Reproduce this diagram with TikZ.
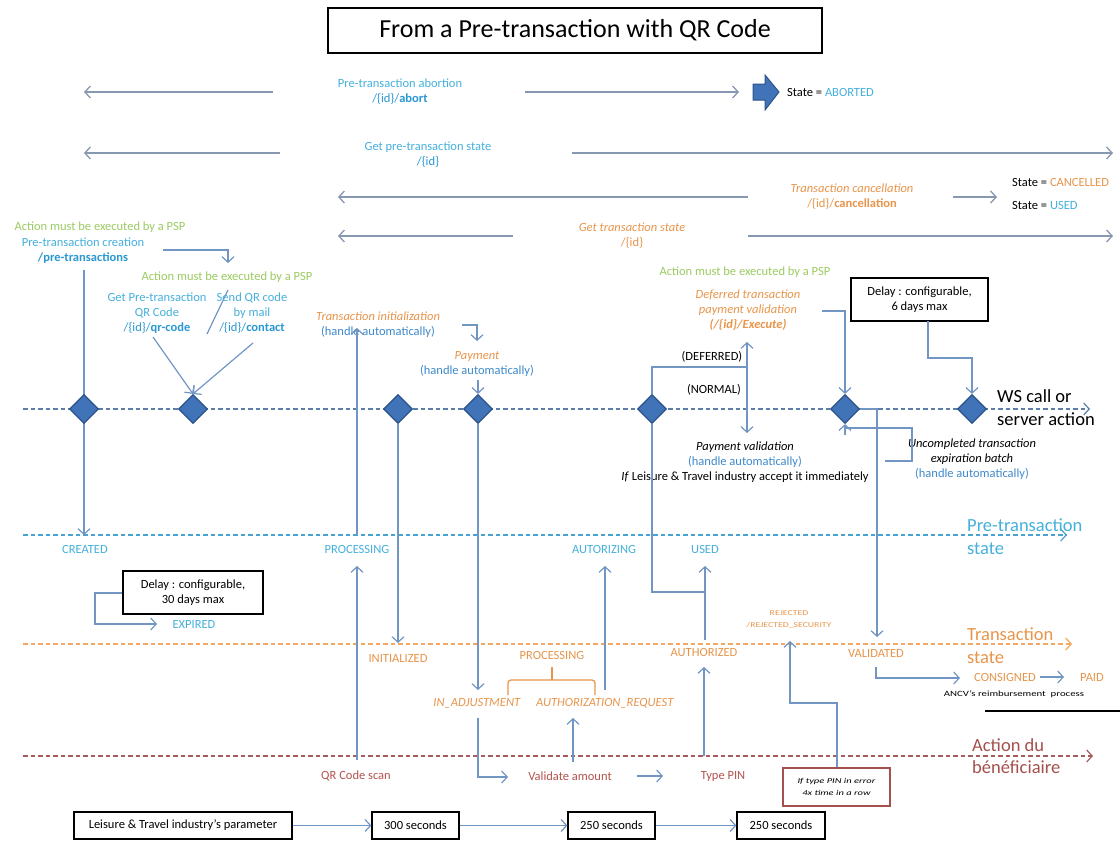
\documentclass[tikz,border=0pt]{standalone}
\usepackage{fontspec}
\setmainfont{Carlito}
\usetikzlibrary{arrows.meta,shapes.geometric}
\definecolor{cyantx}{HTML}{45B0DC}
\definecolor{cyandk}{HTML}{2A98D2}
\definecolor{orangetx}{HTML}{E8954B}
\definecolor{greentx}{HTML}{9CCB62}
\definecolor{autotx}{HTML}{3F8ACB}
\definecolor{redtx}{HTML}{B4544E}
\definecolor{actred}{HTML}{A4504C}
\definecolor{callgray}{HTML}{8798B0}
\definecolor{linkblue}{HTML}{7296C4}
\definecolor{dmdfill}{HTML}{4173B9}
\definecolor{dmdedge}{HTML}{2C5389}
\definecolor{wsdash}{HTML}{5B7DA8}
\definecolor{predash}{HTML}{4AA2D3}
\definecolor{trdash}{HTML}{F2A862}
\definecolor{actdash}{HTML}{A65C5C}
\begin{document}
\begin{tikzpicture}[x=1pt,y=-1pt,
  >={Straight Barb[length=5.5pt,width=12pt]},
  lbl/.style={inner sep=0pt,align=center,font=\fontsize{12.5}{15}\selectfont},
  biglbl/.style={inner sep=0pt,align=left,anchor=west,font=\fontsize{18.5}{22.5}\selectfont},
  call/.style={draw=callgray,line width=1.3pt,->},
  link/.style={draw=linkblue,line width=1.2pt},
  linkarr/.style={link,->},
  lane/.style={line width=1.2pt,dash pattern=on 4.5pt off 3pt,->},
  dmd/.style={diamond,draw=dmdedge,fill=dmdfill,line width=1.2pt,minimum width=29pt,minimum height=29pt,inner sep=0pt},
  note/.style={draw=black,line width=1.2pt,fill=white,inner sep=0pt,align=center,font=\fontsize{12.5}{15}\selectfont},
  tinytx/.style={inner sep=0pt,align=center,font=\fontsize{7.5}{12}\selectfont},
]
\useasboundingbox[fill=white] (0,0) rectangle (1120,841);

% ---------- title ----------
\node[draw=black,line width=2.6pt,minimum width=494pt,minimum height=45pt,inner sep=0pt,
      font=\fontsize{26}{30}\selectfont] (title) at (575,30.5) {From a Pre-transaction with QR Code};

% ---------- web service calls ----------
\node[lbl,text=cyantx] (abort) at (400,91.5) {Pre-transaction abortion\\\textcolor{cyandk}{/\{id\}/\textbf{abort}}};
\coordinate (abL) at (84,92); \coordinate (abA) at (273,92);
\coordinate (abB) at (525,92); \coordinate (abR) at (739,92);
\draw[call] (abA) -- (abL);
\draw[call] (abB) -- (abR);
\draw[fill=dmdfill,draw=dmdedge,line width=1pt] (753,84) -- (765,84) -- (765,75) -- (779,92)
  -- (765,110) -- (765,100) -- (753,100) -- cycle;
\node[lbl,anchor=west] (aborted) at (787,92) {State = \textcolor{cyantx}{ABORTED}};

\node[lbl,text=cyantx] (getpre) at (428,155) {Get pre-transaction state\\\textcolor{cyandk}{/\{id\}}};
\coordinate (gpL) at (84,153); \coordinate (gpA) at (280,153);
\coordinate (gpB) at (572,153); \coordinate (gpR) at (1113,153);
\draw[call] (gpA) -- (gpL);
\draw[call] (gpB) -- (gpR);

\node[lbl,text=orangetx] (cancel) at (852,196.5) {\textit{Transaction cancellation}\\/\{id\}/\textbf{cancellation}};
\coordinate (caL) at (338,197); \coordinate (caA) at (748,197);
\coordinate (caB) at (953,197); \coordinate (caR) at (997,197);
\draw[call] (caA) -- (caL);
\draw[call] (caB) -- (caR);
\node[lbl,anchor=west] (cancelled) at (1012,182) {State = \textcolor{orangetx}{CANCELLED}};
\node[lbl,anchor=west] (usedst) at (1012,205) {State = \textcolor{cyantx}{USED}};

\node[lbl,text=orangetx] (gettr) at (632,236) {\textit{Get transaction state}\\/\{id\}};
\coordinate (gtL) at (338,236); \coordinate (gtA) at (513,236);
\coordinate (gtB) at (748,236); \coordinate (gtR) at (1113,236);
\draw[call] (gtA) -- (gtL);
\draw[call] (gtB) -- (gtR);

% ---------- lanes ----------
\coordinate (wsS) at (23,409); \coordinate (wsE) at (1090,409);
\draw[lane,draw=wsdash] (wsS) -- (wsE);
\node[biglbl] (wslbl) at (997,407.5) {WS call or\\server action};

\coordinate (prS) at (23,535); \coordinate (prE) at (1067,535);
\draw[lane,draw=predash] (prS) -- (prE);
\node[biglbl,text=cyantx] (prlbl) at (967,536.5) {Pre-transaction\\state};

\coordinate (trS) at (23,644); \coordinate (trE) at (1072,644);
\draw[lane,draw=trdash] (trS) -- (trE);
\node[biglbl,text=orangetx] (trlbl) at (967,645.5) {Transaction\\state};

\coordinate (acS) at (23,756); \coordinate (acE) at (1093,756);
\draw[lane,draw=actdash] (acS) -- (acE);
\node[biglbl,text=actred] (aclbl) at (972,756) {Action du\\bénéficiaire};

% ---------- PSP actions ----------
\node[lbl,text=greentx] (psp1) at (100,227) {Action must be executed by a PSP};
\node[lbl,text=cyantx] (create) at (83,250.5) {Pre-transaction creation\\\textcolor{cyandk}{\textbf{/pre-transactions}}};
\coordinate (cr1) at (163,250); \coordinate (cr2) at (228,250); \coordinate (cr3) at (228,263);
\draw[linkarr] (cr1) -- (cr2) -- (cr3);

\node[lbl,text=greentx] (psp2) at (227,277) {Action must be executed by a PSP};
\node[lbl,text=cyantx] (qrget) at (157,313.5) {Get Pre-transaction\\QR Code\\\textcolor{cyandk}{/\{id\}/\textbf{qr-code}}};
\node[lbl,text=cyantx] (qrmail) at (252,313.5) {Send QR code\\by mail\\\textcolor{cyandk}{/\{id\}/\textbf{contact}}};
\coordinate (sl1) at (228,290); \coordinate (sl2) at (207,334);
\draw[link] (sl1) -- (sl2);

\node[lbl,text=greentx] (psp3) at (745,272) {Action must be executed by a PSP};
\node[lbl,text=orangetx] (defer) at (748,310) {\textit{Deferred transaction}\\\textit{payment validation}\\\textbf{\textit{(/\{id\}/Execute)}}};

\node[lbl] (tinit) at (378,325) {\textcolor{orangetx}{\textit{Transaction initialization}}\\\textcolor{autotx}{(handle automatically)}};
\node[lbl] (pay) at (477,363.5) {\textcolor{orangetx}{\textit{Payment}}\\\textcolor{autotx}{(handle automatically)}};
\node[lbl] (payval) at (745,462) {\textit{Payment validation}\\\textcolor{autotx}{(handle automatically)}\\\textit{If} Leisure \& Travel industry accept it immediately};
\node[lbl] (expire) at (972,459.5) {\textit{Uncompleted transaction}\\\textit{expiration batch}\\\textcolor{autotx}{(handle automatically)}};

\node[lbl] (deferred) at (712,357) {(DEFERRED)};
\node[lbl] (normal) at (714,390) {(NORMAL)};

\node[note] (dly6) at (919.5,299.5) [minimum width=137pt,minimum height=43pt] {Delay : configurable,\\6 days max};

% ---------- connectors to the WS lane (drawn under the diamonds) ----------
\coordinate (c1a) at (84,270); \coordinate (c1b) at (84,535);
\draw[linkarr] (c1a) -- (c1b);
\coordinate (q1) at (153,337); \coordinate (q2) at (253,343);
\coordinate (ti1) at (357,535); \coordinate (ti2) at (357,328);
\draw[linkarr] (ti1) -- (ti2);
\coordinate (p1) at (462,325); \coordinate (p2) at (477,325); \coordinate (p3) at (477,341);
\draw[linkarr] (p1) -- (p2) -- (p3);
\coordinate (p4) at (478,380);
\coordinate (dv1) at (652,367); \coordinate (dv2) at (747,367);
\coordinate (dvU) at (747,342); \coordinate (dvD) at (747,433);
\coordinate (df1) at (822,311); \coordinate (df2) at (845,311);
\coordinate (bx1) at (928,321); \coordinate (bx2) at (928,358); \coordinate (bx3) at (972,358);
\coordinate (vd1) at (877,409); \coordinate (vd2) at (877,637);
\coordinate (ex1) at (885,461); \coordinate (ex2) at (912,461); \coordinate (ex3) at (912,428);
\coordinate (ex4) at (845,428); \coordinate (ex5) at (845,435);
\coordinate (us1) at (652,592); \coordinate (us2) at (705,592);

\node[dmd] (d1) at (84,409) {};
\node[dmd] (d2) at (193,409) {};
\node[dmd] (d3) at (398,409) {};
\node[dmd] (d4) at (478,409) {};
\node[dmd] (d5) at (652,409) {};
\node[dmd] (d6) at (845,409) {};
\node[dmd] (d7) at (972,409) {};

\draw[linkarr] (q1) -- (d2.north);
\draw[linkarr] (q2) -- (d2.north);
\draw[linkarr] (p4) -- (d4.north);
\draw[link] (d5.north) -- (dv1) -- (dv2);
\draw[linkarr] (dv2) -- (dvU);
\draw[linkarr] (dv2) -- (dvD);
\draw[linkarr] (df1) -- (df2) -- (d6.north);
\draw[linkarr] (bx1) -- (bx2) -- (bx3) -- (d7.north);
\draw[linkarr] (d6.east) -- (vd1) -- (vd2);
\draw[link] (ex1) -- (ex2) -- (ex3) -- (ex4);
\draw[linkarr] (ex5) -- (d6.south);

% ---------- pre-transaction states ----------
\node[lbl,text=cyantx] (created) at (85,549) {CREATED};
\node[lbl,text=cyantx] (pprocessing) at (357,549) {PROCESSING};
\node[lbl,text=cyantx] (autorizing) at (604,549) {AUTORIZING};
\node[lbl,text=cyantx] (used) at (705,549) {USED};

\node[note] (dly30) at (193,592.5) [minimum width=140pt,minimum height=43pt] {Delay : configurable,\\30 days max};
\node[lbl,text=cyantx] (expired) at (194,624) {EXPIRED};
\coordinate (e1) at (95,593); \coordinate (e2) at (95,624); \coordinate (e3) at (157,624);
\draw[linkarr] (dly30.west |- e1) -- (e1) -- (e2) -- (e3);

% ---------- transaction states ----------
\node[lbl,text=orangetx] (initialized) at (398,658) {INITIALIZED};
\node[lbl,text=orangetx] (tprocessing) at (552,655) {PROCESSING};
\node[lbl,text=orangetx] (authorized) at (704,652) {AUTHORIZED};
\node[lbl,text=orangetx] (validated) at (876,653) {VALIDATED};
\node[lbl,text=orangetx] (inadj) at (477,703) {\textit{IN\_ADJUSTMENT}};
\node[lbl,text=orangetx] (authreq) at (605,703) {\textit{AUTHORIZATION\_REQUEST}};
\draw[draw=orangetx,line width=1.2pt,rounded corners=3pt] (508,695) -- (508,680) -- (595,680) -- (595,695);
\draw[draw=orangetx,line width=1.2pt] (552,680) -- (552,667);
\node[tinytx,text=orangetx] (rejected) at (789,619) {\scalebox{1.3}[1]{\begin{tabular}{@{}c@{}}REJECTED\\/REJECTED\_SECURITY\end{tabular}}};
\node[lbl,text=orangetx] (consigned) at (1005,677) {CONSIGNED};
\node[lbl,text=orangetx] (paid) at (1092,677) {PAID};
\node[inner sep=0pt,font=\fontsize{8}{10}\selectfont] (ancv) at (1014,694) {\scalebox{1.35}[1]{ANCV's reimbursement\ \ process}};
\coordinate (bl1) at (985,711); \coordinate (bl2) at (1120,711);
\draw[black,line width=1.3pt] (bl1) -- (bl2);

% ---------- beneficiary actions ----------
\node[lbl,text=redtx] (qrscan) at (356,776) {QR Code scan};
\node[lbl,text=redtx] (validate) at (570,776) {Validate amount};
\node[lbl,text=redtx] (typepin) at (723,776) {Type PIN};
\node[draw=actred,line width=1.2pt,fill=white,minimum width=107pt,minimum height=38pt,inner sep=0pt,
      font=\fontsize{7.5}{12}\selectfont] (pinerr) at (836.5,787)
      {\scalebox{1.4}[1]{\begin{tabular}{@{}c@{}}\textit{If type PIN in error}\\\textit{4x time in a row}\end{tabular}}};

% ---------- state transitions ----------
\coordinate (k1) at (357,760); \coordinate (k2) at (357,566);
\draw[linkarr] (k1) -- (k2);
\coordinate (k3) at (398,643);
\draw[linkarr] (d3.south) -- (k3);
\coordinate (k4) at (478,690);
\draw[linkarr] (d4.south) -- (k4);
\draw[link] (d5.south) -- (us1) -- (us2);
\coordinate (k5) at (705,640); \coordinate (k6) at (705,566);
\draw[linkarr] (k5) -- (k6);
\coordinate (k7) at (605,690); \coordinate (k8) at (605,566);
\draw[linkarr] (k7) -- (k8);
\coordinate (k9) at (478,718); \coordinate (k10) at (478,777); \coordinate (k11) at (508,777);
\draw[linkarr] (k9) -- (k10) -- (k11);
\coordinate (k12) at (573,762); \coordinate (k13) at (573,718);
\draw[linkarr] (k12) -- (k13);
\coordinate (k14) at (637,776); \coordinate (k15) at (663,776);
\draw[linkarr] (k14) -- (k15);
\coordinate (k16) at (704,756); \coordinate (k17) at (704,667);
\draw[linkarr] (k16) -- (k17);
\coordinate (k18) at (837,703); \coordinate (k19) at (790,703); \coordinate (k20) at (790,641);
\draw[linkarr] (pinerr.north -| k18) -- (k18) -- (k19) -- (k20);
\coordinate (k21) at (876,667); \coordinate (k22) at (876,678); \coordinate (k23) at (960,678);
\draw[linkarr] (k21) -- (k22) -- (k23);
\coordinate (k24) at (1040,677); \coordinate (k25) at (1064,677);
\draw[linkarr] (k24) -- (k25);

% ---------- timeouts ----------
\node[note,minimum width=218pt,minimum height=27pt] (leisure) at (183,825.5) {Leisure \& Travel industry's parameter};
\node[note,minimum width=87pt,minimum height=27pt] (t300) at (415.5,825.5) {300 seconds};
\node[note,minimum width=87pt,minimum height=27pt] (t250a) at (611.5,825.5) {250 seconds};
\node[note,minimum width=88pt,minimum height=27pt] (t250b) at (781,825.5) {250 seconds};
\draw[linkarr] (leisure) -- (t300);
\draw[linkarr] (t300) -- (t250a);
\draw[linkarr] (t250a) -- (t250b);
\end{tikzpicture}
\end{document}
